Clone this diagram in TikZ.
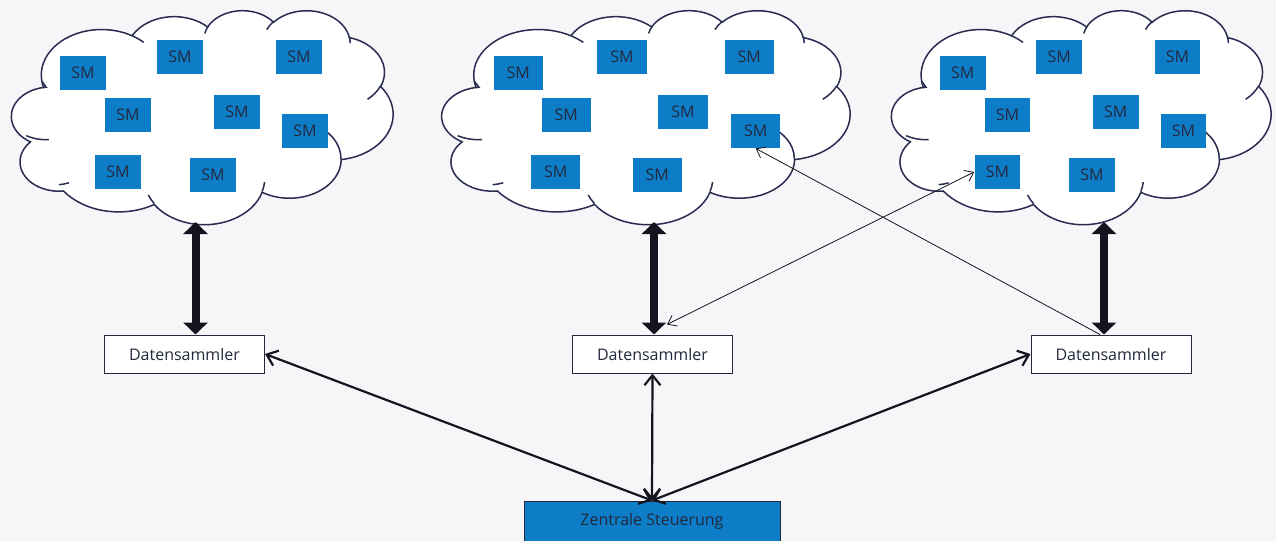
\documentclass[tikz,border=0pt]{standalone}
\usepackage{fontspec}
\setmainfont{Open Sans}
\usetikzlibrary{arrows.meta}

\definecolor{smblue}{RGB}{14,125,200}
\definecolor{ink}{RGB}{35,40,60}
\definecolor{rand}{RGB}{40,44,80}
\definecolor{pfeil}{RGB}{20,20,32}
\definecolor{papier}{RGB}{246,246,248}

\tikzset{
    oarc/.style n args={4}{insert path={
        \pgfextra{%
            \pgfmathparse{atan2(#1*sin(#3),#2*cos(#3))}\global\let\oas\pgfmathresult
            \pgfmathparse{atan2(#1*sin(#3+#4),#2*cos(#3+#4))}\global\let\oae\pgfmathresult
            \pgfmathparse{\oas+mod(\oae-\oas+720,360)}\global\let\oae\pgfmathresult}
        arc[start angle=\oas, end angle=\oae, x radius=#1, y radius=#2]}},
    wolkenlinie/.style={draw=rand, line width=0.75pt},
    pics/wolke/.style={code={
        \draw[wolkenlinie, fill=white] (39,143.7)
            [oarc={67.53}{91.90}{-190.4875}{123.7805}]
            [oarc={53.33}{72.67}{-144.1024}{89.9452}]
            [oarc={43.65}{59.45}{-145.8079}{99.7230}]
            [oarc={48.57}{65.95}{-130.9861}{117.2417}]
            [oarc={53.33}{72.73}{-78.7089}{109.0269}]
            [oarc={67.75}{92.20}{-46.2710}{130.2690}]
            [oarc={57.85}{78.67}{0.6250}{114.0333}]
            [oarc={67.52}{92.15}{22.4516}{115.1726}]
            [oarc={77.20}{105.43}{66.2426}{68.1101}]
            [oarc={43.60}{59.18}{-274.9421}{146.7356}]
            [oarc={43.45}{59.45}{-246.8285}{152.5189}]
            -- cycle;
        \draw[wolkenlinie] (46.93,261.77) [oarc={43.45}{59.45}{86.742}{26.4295}]
            (69.28,348.99) [oarc={43.60}{59.18}{73.6105}{11.4475}]
            (164.78,390.90) [oarc={67.52}{92.15}{137.6242}{14.0811}]
            (288.27,347.51) [oarc={67.52}{92.15}{6.4533}{15.9984}]
            (341.29,229.54) [oarc={57.85}{78.67}{-70.2924}{70.9174}]
            (417.98,153.54) [oarc={53.33}{72.73}{30.3180}{27.7515}]
            (383.24,54.26) [oarc={48.57}{65.95}{-13.7443}{14.8585}]
            (290.78,39.52) [oarc={48.57}{65.95}{-149.1815}{18.1954}]
            (221.41,47.20) [oarc={43.65}{59.45}{-163.4943}{17.6864}]
            (140.00,51.92) [oarc={67.53}{91.90}{-66.7070}{12.3194}]
            (41.27,157.89) [oarc={67.53}{91.90}{157.6544}{11.8582}];
    }},
    sm/.style={fill=smblue, text=ink, minimum height=17pt, inner sep=0pt,
        font=\fontsize{8}{9}\selectfont},
    sammler/.style={draw=ink, line width=0.5pt, fill=white, text=ink,
        minimum width=80pt, minimum height=19pt, font=\fontsize{8}{9}\selectfont},
    zentrale/.style={draw=ink, line width=0.5pt, fill=smblue, text=ink,
        minimum width=128pt, minimum height=20pt, font=\fontsize{8}{9}\selectfont},
    dick/.style={draw=pfeil, line width=4pt,
        arrows={Triangle[width=12pt,length=6pt]-Triangle[width=12pt,length=6pt]}},
    mittel/.style={draw=pfeil, line width=1.1pt,
        arrows={Straight Barb[width=8pt,length=5pt]-Straight Barb[width=8pt,length=5pt]}},
    duenn/.style={draw=pfeil, line width=0.4pt}
}

\begin{document}
\begin{tikzpicture}[x=0.5pt, y=-0.5pt]
            \fill[papier] (0,0) rectangle (1276,541);
            \useasboundingbox (0,0) rectangle (1276,541);

            \foreach \c/\x/\w in {1/9/386, 2/439/413, 3/889/384} {
                \pgfmathsetmacro\sx{\w/864}
                \pgfmathsetmacro\f{\w/386}
                \begin{scope}[shift={(\x-2,10)}, x=\sx pt, y=-0.2476pt]
                    \pic {wolke};
                \end{scope}
                \foreach \i/\px/\py in {1/74/73, 2/171/57, 3/290/57, 4/119/115,
                        5/228/112, 6/296/131, 7/109/172, 8/204/175}
                    \node[sm, minimum width=\f*23pt] (sm\c\i) at ({\x+\f*\px},\py) {SM};
            }

            \node[sammler] (d1) at (184.5,354) {Datensammler};
            \node[sammler] (d2) at (652.5,354) {Datensammler};
            \node[sammler] (d3) at (1111,354) {Datensammler};
            \node[zentrale] (z) at (652,521) {Zentrale Steuerung};

            \coordinate (w1) at (195.5,222);
            \coordinate (w2) at (654,222);
            \coordinate (w3) at (1104,222);
            \draw[dick] (w1) -- (w1 |- d1.north);
            \draw[dick] (w2) -- (w2 |- d2.north);
            \draw[dick] (w3) -- (w3 |- d3.north);

            \draw[mittel] (z.north) -- (d1.east);
            \draw[mittel] (z.north) -- (d2.south);
            \draw[mittel] (z.north) -- (d3.west);

            \draw[duenn, -{Straight Barb[width=6pt,length=4pt]}] ([xshift=-5.5pt]d3.north) -- (sm26.south);
            \draw[duenn, {Straight Barb[width=6pt,length=4pt]}-{Straight Barb[width=6pt,length=4pt]}]
                ([xshift=7.25pt,yshift=5pt]d2.north) -- (sm37.west);
\end{tikzpicture}
\end{document}
